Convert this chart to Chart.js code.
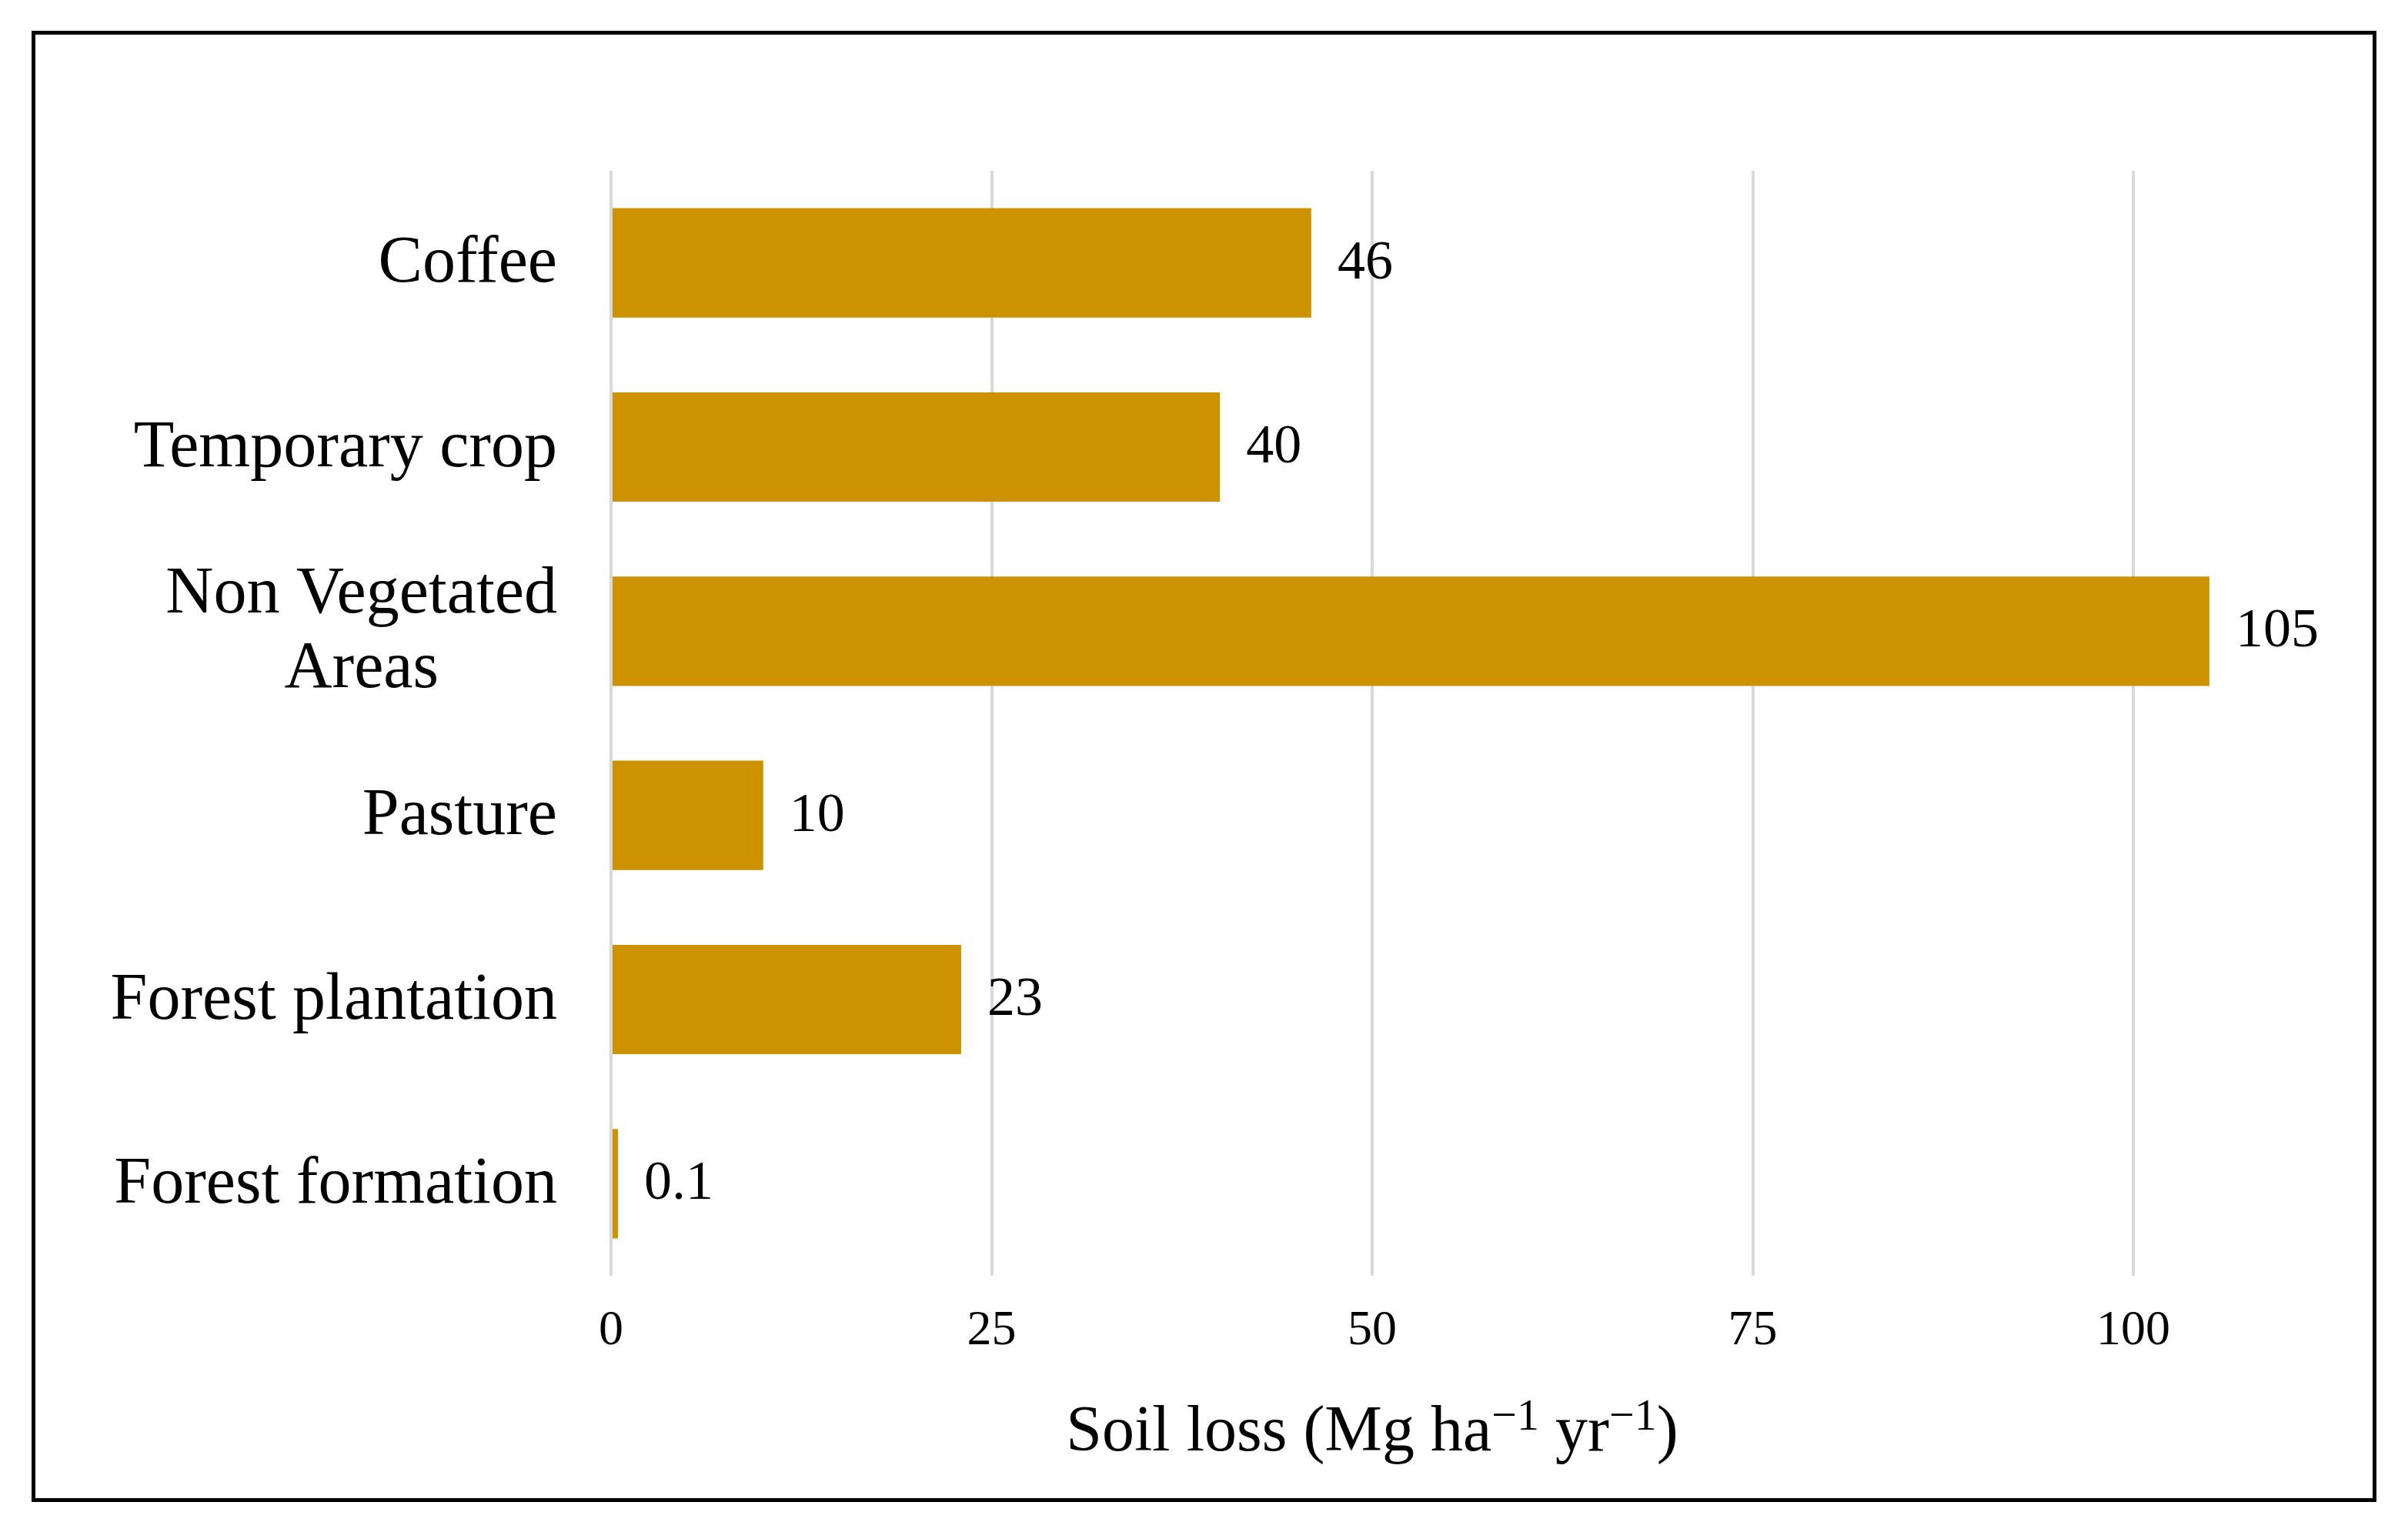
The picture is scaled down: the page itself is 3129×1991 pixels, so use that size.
<!DOCTYPE html>
<html>
<head>
<meta charset="utf-8">
<script src="https://cdn.jsdelivr.net/npm/chart.js"></script>
<style>
  html, body { margin: 0; padding: 0; background: #fff; }
  #wrap { position: relative; width: 3129px; height: 1991px; }
  #frame { position: absolute; left: 41px; top: 40px; width: 3047px; height: 1912px;
           box-sizing: border-box; border: 5px solid #000; pointer-events: none; }
</style>
</head>
<body>
<div id="wrap">
  <canvas id="chart"></canvas>
  <div id="frame"></div>
</div>
<script>
const categories = ['Coffee', 'Temporary crop', ['Non Vegetated', 'Areas'], 'Pasture', 'Forest plantation', 'Forest formation'];
const soilLoss = [46, 40, 105, 10, 23, 0.1];
const xTicks = [0, 25, 50, 75, 100];
const axisTitle = [
    { text: 'Soil loss (Mg ha' },
    { text: '\u22121', sup: true },
    { text: ' yr' },
    { text: '\u22121', sup: true },
    { text: ')' }
];

const serif = "'Liberation Serif', 'Times New Roman', serif";

const textPlugin = {
    id: 'textPlugin',
    afterDatasetsDraw(chart) {
        const ctx = chart.ctx;
        ctx.save();
        ctx.fillStyle = '#000';

        // value labels at the end of each bar
        ctx.font = `72px ${serif}`;
        ctx.textAlign = 'left';
        ctx.textBaseline = 'middle';
        chart.getDatasetMeta(0).data.forEach((bar, i) => {
            ctx.fillText(String(soilLoss[i]), bar.x + 34, bar.y + 1);
        });

        // category labels, block right aligned, lines centred
        const yScale = chart.scales.y;
        ctx.font = `86px ${serif}`;
        ctx.textAlign = 'center';
        categories.forEach((label, i) => {
            const lines = Array.isArray(label) ? label : [label];
            const widest = Math.max(...lines.map(l => ctx.measureText(l).width));
            const cx = yScale.right - 70 - widest / 2;
            const y = yScale.getPixelForTick(i);
            lines.forEach((line, j) => {
                ctx.fillText(line, cx, y + 2 + (j - (lines.length - 1) / 2) * 97);
            });
        });

        // x axis title with superscripts
        const xScale = chart.scales.x;
        const mainFont = `84px ${serif}`;
        const supFont = `58px ${serif}`;
        let total = 0;
        axisTitle.forEach(seg => {
            ctx.font = seg.sup ? supFont : mainFont;
            seg.w = ctx.measureText(seg.text).width;
            total += seg.w;
        });
        let x = (xScale.left + xScale.right) / 2 - total / 2;
        const baseline = chart.chartArea.bottom + 227;
        ctx.textAlign = 'left';
        ctx.textBaseline = 'alphabetic';
        axisTitle.forEach(seg => {
            ctx.font = seg.sup ? supFont : mainFont;
            ctx.fillText(seg.text, x, seg.sup ? baseline - 27 : baseline);
            x += seg.w;
        });
        ctx.restore();
    }
};

const soilLossChart = new Chart(document.getElementById('chart'), {
    type: 'bar',
    data: {
        labels: categories,
        datasets: [
            {
                label: 'Soil loss',
                data: soilLoss,
                backgroundColor: '#CD9200',
                barPercentage: 0.594,
                categoryPercentage: 1,
                minBarLength: 9,
                clip: false
            }
        ]
    },
    options: {
        indexAxis: 'y',
        responsive: true,
        maintainAspectRatio: false,
        animation: false,
        layout: {
            padding: { left: 0, right: 3129 - 2772, top: 222, bottom: 0 }
        },
        plugins: {
            legend: { display: false },
            tooltip: { enabled: false }
        },
        scales: {
            x: {
                type: 'linear',
                min: 0,
                max: 100,
                afterBuildTicks: scale => { scale.ticks = xTicks.map(v => ({ value: v })) },
                afterFit: scale => { scale.height = 1991 - 1658 },
                grid: { color: '#D9D9D9', lineWidth: 4, drawTicks: false },
                border: { display: false },
                ticks: {
                    color: '#000',
                    padding: 34,
                    font: { family: serif, size: 64 }
                }
            },
            y: {
                type: 'category',
                afterFit: scale => { scale.width = 794 },
                grid: { display: false },
                border: { display: false },
                ticks: { display: false }
            }
        }
    },
    plugins: [textPlugin]
});
</script>
</body>
</html>
